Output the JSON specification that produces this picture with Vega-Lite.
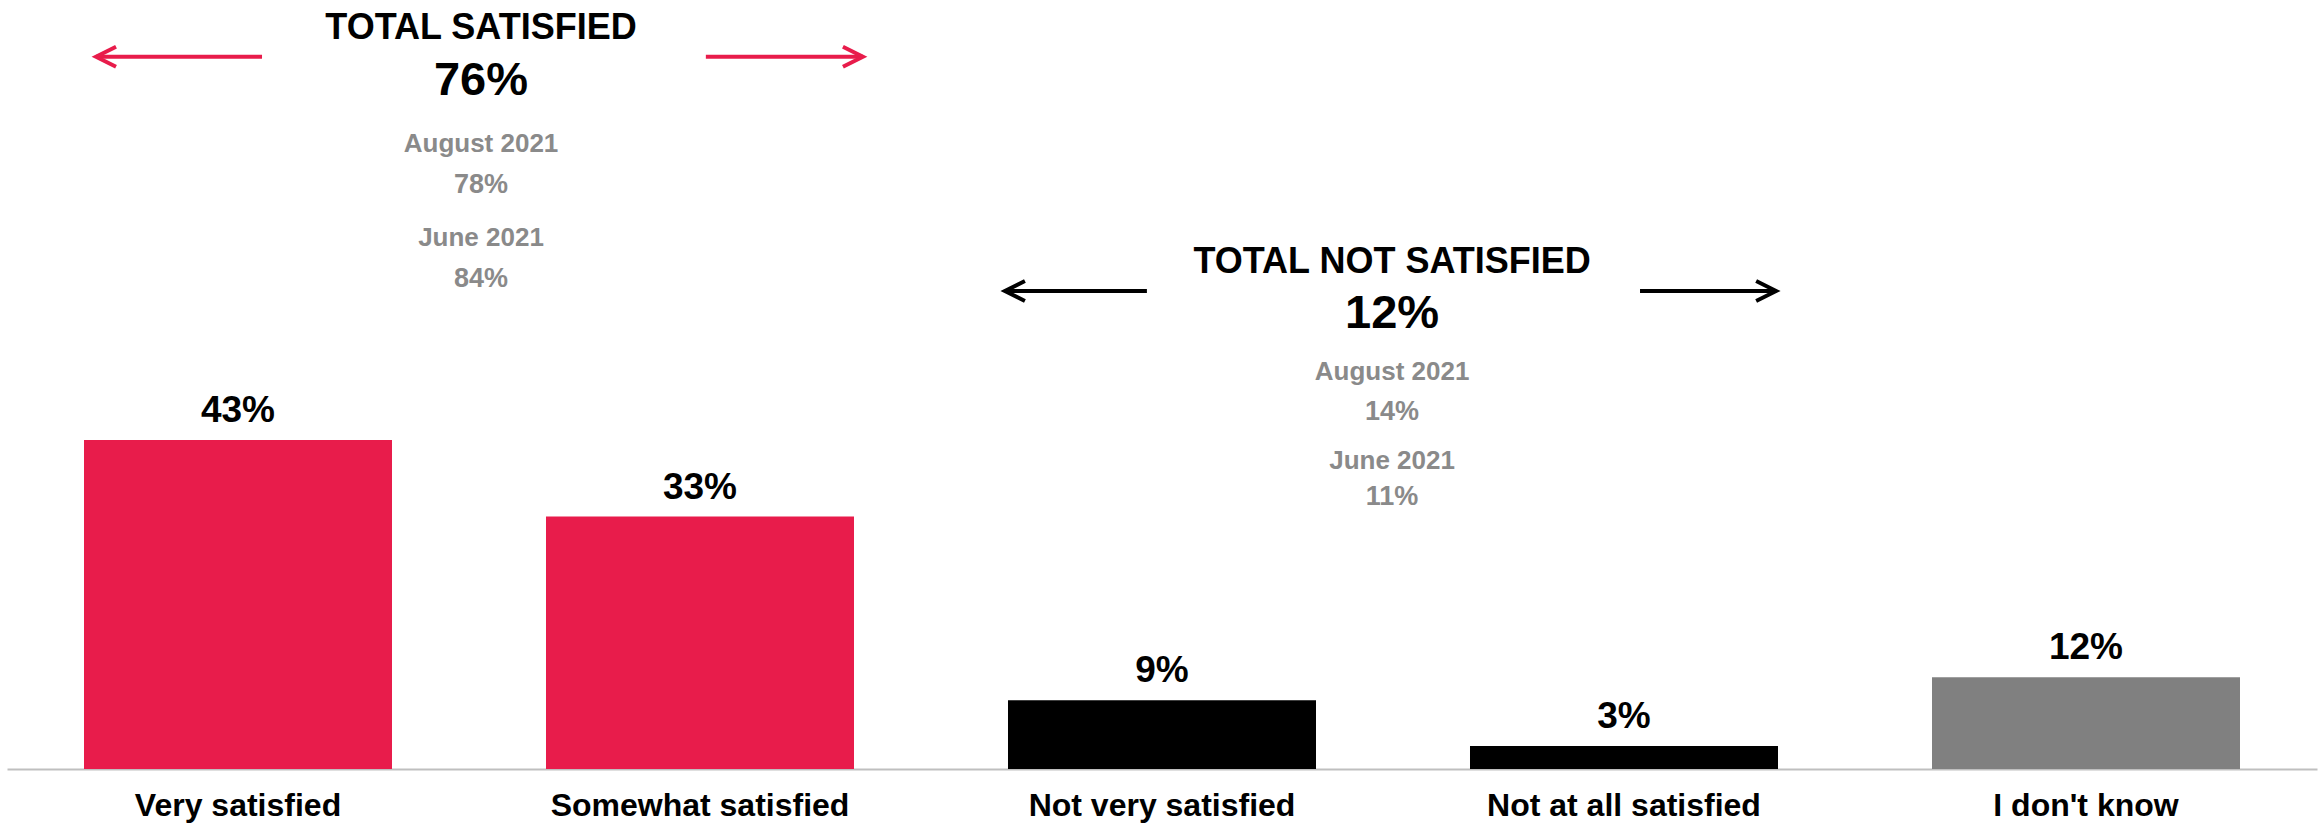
{
  "$schema": "https://vega.github.io/schema/vega-lite/v6.json",
  "width": 2310,
  "height": 765,
  "autosize": {"type": "none"},
  "padding": {"left": 7, "top": 4, "right": 6, "bottom": 57},
  "background": "white",
  "config": {
    "view": {"stroke": null},
    "font": "Liberation Sans",
    "axisY": {"disable": true},
    "axisX": {
      "title": null,
      "labelFont": "Liberation Sans",
      "labelFontSize": 32,
      "labelFontWeight": "bold",
      "labelColor": "#000000",
      "labelAngle": 0,
      "labelPadding": 21,
      "labelLimit": 0,
      "ticks": false,
      "tickSize": 0,
      "domainColor": "#BFBFBF",
      "domainWidth": 2,
      "grid": false
    }
  },
  "datasets": {
    "bars": [
      {"cat": "Very satisfied", "value": 43, "label": "43%", "kind": "satisfied"},
      {"cat": "Somewhat satisfied", "value": 33, "label": "33%", "kind": "satisfied"},
      {"cat": "Not very satisfied", "value": 9, "label": "9%", "kind": "not satisfied"},
      {"cat": "Not at all satisfied", "value": 3, "label": "3%", "kind": "not satisfied"},
      {"cat": "I don't know", "value": 12, "label": "12%", "kind": "don't know"}
    ],
    "groups": [
      {"group": "satisfied", "first": "Very satisfied", "second": "Somewhat satisfied", "title": "TOTAL SATISFIED", "total": "76%", "prev1": "August 2021", "prev1v": "78%", "prev2": "June 2021", "prev2v": "84%"},
      {"group": "not satisfied", "first": "Not very satisfied", "second": "Not at all satisfied", "title": "TOTAL NOT SATISFIED", "total": "12%", "prev1": "August 2021", "prev1v": "14%", "prev2": "June 2021", "prev2v": "11%"}
    ]
  },
  "layer": [
    {
      "data": {"name": "bars"},
      "layer": [
        {
          "mark": {"type": "bar"},
          "encoding": {
            "x": {
              "field": "cat", "type": "nominal", "sort": null, "title": null,
              "scale": {"domain": ["Very satisfied", "Somewhat satisfied", "Not very satisfied", "Not at all satisfied", "I don't know"], "paddingInner": 0.33333, "paddingOuter": 0.166667}
            },
            "y": {"field": "value", "type": "quantitative", "scale": {"domain": [0, 100], "nice": false, "zero": true}, "axis": null},
            "color": {
              "field": "kind", "type": "nominal", "legend": null,
              "scale": {"domain": ["satisfied", "not satisfied", "don't know"], "range": ["#E81C4B", "#000000", "#808080"]}
            }
          }
        },
        {
          "mark": {"type": "text", "baseline": "alphabetic", "align": "center", "dy": -18, "fontSize": 37, "fontWeight": "bold", "color": "#000000", "font": "Liberation Sans"},
          "encoding": {
            "x": {"field": "cat", "type": "nominal", "title": null},
            "y": {"field": "value", "type": "quantitative", "axis": null},
            "text": {"field": "label"}
          }
        }
      ]
    },
    {
      "data": {"name": "groups"},
      "transform": [{"filter": "datum.group === 'satisfied'"}],
      "layer": [
        {
          "mark": {"type": "rule", "color": "#E81C4B", "strokeWidth": 4},
          "encoding": {
            "x": {"field": "first", "type": "nominal", "bandPosition": 0.039, "title": null},
            "x2": {"field": "first", "bandPosition": 0.578},
            "y": {"datum": 93.11, "axis": null}
          }
        },
        {
          "mark": {"type": "rule", "color": "#E81C4B", "strokeWidth": 4},
          "encoding": {
            "x": {"field": "second", "type": "nominal", "bandPosition": 0.519, "title": null},
            "x2": {"field": "second", "bandPosition": 1.029},
            "y": {"datum": 93.11, "axis": null}
          }
        },
        {
          "mark": {"type": "point", "shape": "M 1 -0.5 L 0 0 L 1 0.5", "size": 1600, "filled": false, "color": "#E81C4B", "strokeWidth": 4, "opacity": 1},
          "encoding": {
            "x": {"field": "first", "type": "nominal", "bandPosition": 0.039, "title": null},
            "y": {"datum": 93.11, "axis": null}
          }
        },
        {
          "mark": {"type": "point", "shape": "M -1 -0.5 L 0 0 L -1 0.5", "size": 1600, "filled": false, "color": "#E81C4B", "strokeWidth": 4, "opacity": 1},
          "encoding": {
            "x": {"field": "second", "type": "nominal", "bandPosition": 1.029, "title": null},
            "y": {"datum": 93.11, "axis": null}
          }
        },
        {
          "mark": {"type": "text", "baseline": "alphabetic", "fontSize": 36, "fontWeight": "bold", "color": "#000000"},
          "encoding": {
            "x": {"field": "first", "type": "nominal", "bandPosition": 1.289, "title": null},
            "y": {"datum": 95.42, "axis": null},
            "text": {"field": "title"}
          }
        },
        {
          "mark": {"type": "text", "baseline": "alphabetic", "fontSize": 47, "fontWeight": "bold", "color": "#000000"},
          "encoding": {
            "x": {"field": "first", "type": "nominal", "bandPosition": 1.289, "title": null},
            "y": {"datum": 88.10, "axis": null},
            "text": {"field": "total"}
          }
        },
        {
          "mark": {"type": "text", "baseline": "alphabetic", "fontSize": 26, "fontWeight": "bold", "color": "#8A8A8A"},
          "encoding": {
            "x": {"field": "first", "type": "nominal", "bandPosition": 1.289, "title": null},
            "y": {"datum": 80.65, "axis": null},
            "text": {"field": "prev1"}
          }
        },
        {
          "mark": {"type": "text", "baseline": "alphabetic", "fontSize": 27, "fontWeight": "bold", "color": "#8A8A8A"},
          "encoding": {
            "x": {"field": "first", "type": "nominal", "bandPosition": 1.289, "title": null},
            "y": {"datum": 75.29, "axis": null},
            "text": {"field": "prev1v"}
          }
        },
        {
          "mark": {"type": "text", "baseline": "alphabetic", "fontSize": 26, "fontWeight": "bold", "color": "#8A8A8A"},
          "encoding": {
            "x": {"field": "first", "type": "nominal", "bandPosition": 1.289, "title": null},
            "y": {"datum": 68.37, "axis": null},
            "text": {"field": "prev2"}
          }
        },
        {
          "mark": {"type": "text", "baseline": "alphabetic", "fontSize": 27, "fontWeight": "bold", "color": "#8A8A8A"},
          "encoding": {
            "x": {"field": "first", "type": "nominal", "bandPosition": 1.289, "title": null},
            "y": {"datum": 63.01, "axis": null},
            "text": {"field": "prev2v"}
          }
        }
      ]
    },
    {
      "data": {"name": "groups"},
      "transform": [{"filter": "datum.group === 'not satisfied'"}],
      "layer": [
        {
          "mark": {"type": "rule", "color": "#000000", "strokeWidth": 4},
          "encoding": {
            "x": {"field": "first", "type": "nominal", "bandPosition": -0.01, "title": null},
            "x2": {"field": "first", "bandPosition": 0.451},
            "y": {"datum": 62.48, "axis": null}
          }
        },
        {
          "mark": {"type": "rule", "color": "#000000", "strokeWidth": 4},
          "encoding": {
            "x": {"field": "second", "type": "nominal", "bandPosition": 0.552, "title": null},
            "x2": {"field": "second", "bandPosition": 0.994},
            "y": {"datum": 62.48, "axis": null}
          }
        },
        {
          "mark": {"type": "point", "shape": "M 1 -0.5 L 0 0 L 1 0.5", "size": 1600, "filled": false, "color": "#000000", "strokeWidth": 4, "opacity": 1},
          "encoding": {
            "x": {"field": "first", "type": "nominal", "bandPosition": -0.01, "title": null},
            "y": {"datum": 62.48, "axis": null}
          }
        },
        {
          "mark": {"type": "point", "shape": "M -1 -0.5 L 0 0 L -1 0.5", "size": 1600, "filled": false, "color": "#000000", "strokeWidth": 4, "opacity": 1},
          "encoding": {
            "x": {"field": "second", "type": "nominal", "bandPosition": 0.994, "title": null},
            "y": {"datum": 62.48, "axis": null}
          }
        },
        {
          "mark": {"type": "text", "baseline": "alphabetic", "fontSize": 36, "fontWeight": "bold", "color": "#000000"},
          "encoding": {
            "x": {"field": "first", "type": "nominal", "bandPosition": 1.247, "title": null},
            "y": {"datum": 64.84, "axis": null},
            "text": {"field": "title"}
          }
        },
        {
          "mark": {"type": "text", "baseline": "alphabetic", "fontSize": 47, "fontWeight": "bold", "color": "#000000"},
          "encoding": {
            "x": {"field": "first", "type": "nominal", "bandPosition": 1.247, "title": null},
            "y": {"datum": 57.65, "axis": null},
            "text": {"field": "total"}
          }
        },
        {
          "mark": {"type": "text", "baseline": "alphabetic", "fontSize": 26, "fontWeight": "bold", "color": "#8A8A8A"},
          "encoding": {
            "x": {"field": "first", "type": "nominal", "bandPosition": 1.247, "title": null},
            "y": {"datum": 50.85, "axis": null},
            "text": {"field": "prev1"}
          }
        },
        {
          "mark": {"type": "text", "baseline": "alphabetic", "fontSize": 27, "fontWeight": "bold", "color": "#8A8A8A"},
          "encoding": {
            "x": {"field": "first", "type": "nominal", "bandPosition": 1.247, "title": null},
            "y": {"datum": 45.62, "axis": null},
            "text": {"field": "prev1v"}
          }
        },
        {
          "mark": {"type": "text", "baseline": "alphabetic", "fontSize": 26, "fontWeight": "bold", "color": "#8A8A8A"},
          "encoding": {
            "x": {"field": "first", "type": "nominal", "bandPosition": 1.247, "title": null},
            "y": {"datum": 39.22, "axis": null},
            "text": {"field": "prev2"}
          }
        },
        {
          "mark": {"type": "text", "baseline": "alphabetic", "fontSize": 27, "fontWeight": "bold", "color": "#8A8A8A"},
          "encoding": {
            "x": {"field": "first", "type": "nominal", "bandPosition": 1.247, "title": null},
            "y": {"datum": 34.51, "axis": null},
            "text": {"field": "prev2v"}
          }
        }
      ]
    }
  ]
}
